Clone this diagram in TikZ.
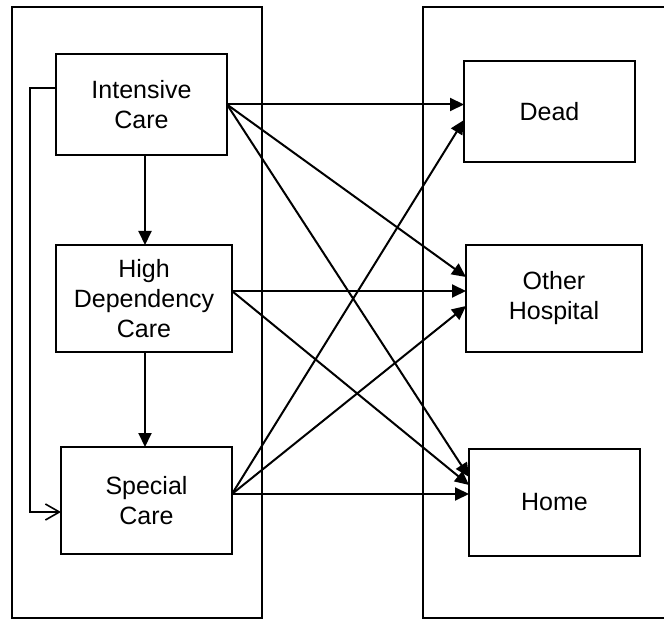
\documentclass[tikz,border=0pt]{standalone}
\usepackage{fontspec}
\setmainfont{Liberation Sans}
\usetikzlibrary{arrows.meta,calc}
\begin{document}
\begin{tikzpicture}[x=1pt,y=-1pt,
  box/.style={draw,line width=2pt,inner sep=0pt,outer sep=0pt,align=center,
    font=\fontsize{25}{30}\selectfont},
  arr/.style={line width=2pt,-{Triangle[length=14pt,width=13pt]}},
  openarr/.style={line width=1.6pt,-{Straight Barb[length=14pt,width=16pt,line width=1.6pt]}},
  frame/.style={line width=2pt}]
\useasboundingbox (0,0) rectangle (664,620);
% panels
\draw[frame] (12,7) rectangle (262,618);
\draw[frame] (664,7) -- (423,7) -- (423,618) -- (664,618);
% nodes
\node[box,minimum width=171pt,minimum height=101pt] (IC) at (141.5,104.5) {Intensive\\Care};
\node[box,minimum width=176pt,minimum height=107pt] (HDC) at (144,298.5) {High\\Dependency\\Care};
\node[box,minimum width=171pt,minimum height=107pt] (SC) at (146.5,500.5) {Special\\Care};
\node[box,minimum width=171pt,minimum height=101pt] (Dead) at (549.5,111.5) {Dead};
\node[box,minimum width=176pt,minimum height=107pt] (OH) at (554,298.5) {Other\\Hospital};
\node[box,minimum width=171pt,minimum height=107pt] (Home) at (554.5,502.5) {Home};
% vertical arrows
\draw[arr] ([xshift=3.5pt]IC.south) -- ([xshift=3.5pt]IC.south |- HDC.north);
\draw[arr] ([xshift=1pt]HDC.south) -- ([xshift=1pt]HDC.south |- SC.north);
% loop
\draw[openarr] ([yshift=16.5pt]IC.west) -- ++(-26,0) |- ([yshift=-11.5pt]SC.west);
% from Intensive Care
\draw[arr] (IC.east) -- (IC.east -| Dead.west);
\draw[arr] (IC.east) -- ([yshift=21.5pt]OH.west);
\draw[arr] (IC.east) -- ([yshift=25.5pt]Home.west);
% from High Dependency Care
\draw[arr] ([yshift=7.5pt]HDC.east) -- ([yshift=7.5pt]OH.west);
\draw[arr] ([yshift=7.5pt]HDC.east) -- ([yshift=17.5pt]Home.west);
% from Special Care
\draw[arr] ([yshift=6.5pt]SC.east) -- ([yshift=-8.5pt]Dead.west);
\draw[arr] ([yshift=6.5pt]SC.east) -- ([yshift=-7.5pt]OH.west);
\draw[arr] ([yshift=6.5pt]SC.east) -- ([yshift=8.5pt]Home.west);
\end{tikzpicture}
\end{document}
